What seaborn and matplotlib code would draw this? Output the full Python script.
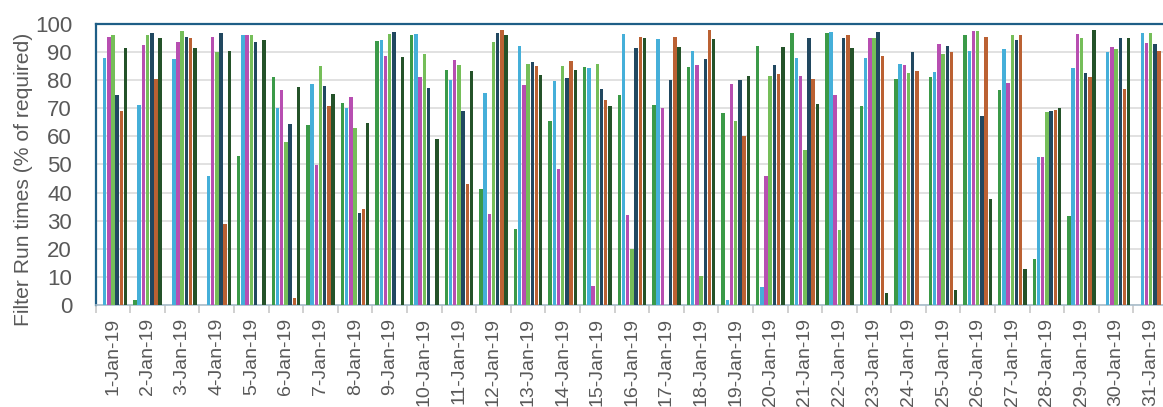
import numpy as np
import pandas as pd
import seaborn as sns
import matplotlib
matplotlib.use("Agg")
import matplotlib.pyplot as plt
from matplotlib.ticker import MultipleLocator, FixedLocator

nan = np.nan

dates = [f"{d}-Jan-19" for d in range(1, 32)]

filter_1 = [nan, 1.7, nan, nan, 53.0, 81.2, 64.1, 71.8, 94.1, 96.2, 83.6, 41.1, 26.9, 65.5, 84.8, 74.8,
            71.1, 84.8, 68.3, 92.2, 96.8, 96.9, 70.7, 80.5, 81.3, 96.0, 76.5, 16.4, 31.7, nan, nan]
filter_2 = [87.9, 71.1, 87.6, 45.9, 96.2, 70.2, 78.7, 70.3, 94.3, 96.4, 80.1, 75.4, 92.3, 79.8, 84.4, 96.6,
            94.8, 90.4, 1.5, 6.2, 87.9, 97.1, 88.0, 85.7, 83.1, 90.6, 91.3, 52.7, 84.5, 90.0, 96.9]
filter_3 = [95.5, 92.7, 93.8, 95.5, 96.2, 76.5, 49.7, 74.1, 88.6, 81.3, 87.3, 32.3, 78.4, 48.3, 6.7, 32.1,
            70.0, 85.3, 78.8, 45.9, 81.6, 74.6, 95.2, 85.5, 92.9, 97.6, 79.1, 52.7, 96.7, 91.9, 93.2]
filter_4 = [96.0, 96.2, 97.5, 90.0, 96.1, 58.0, 85.0, 63.0, 96.6, 89.4, 85.3, 93.5, 85.9, 85.1, 85.9, 19.9,
            nan, 10.2, 65.5, 81.6, 55.2, 26.6, 95.0, 82.6, 89.4, 97.7, 96.2, 68.7, 95.2, 91.0, 97.0]
filter_5 = [74.7, 96.8, 95.5, 96.9, 93.7, 64.6, 78.0, 32.7, 97.3, 77.3, 69.0, 96.9, 86.4, 80.9, 76.8, 91.4,
            80.0, 87.5, 80.0, 85.5, 95.1, 95.2, 97.3, 90.0, 92.3, 67.4, 94.3, 69.1, 82.5, 95.0, 93.0]
filter_6 = [69.1, 80.5, 95.2, 28.8, nan, 2.4, 70.7, 34.1, nan, nan, 43.0, 98.0, 85.1, 86.8, 72.9, 95.5,
            95.5, 98.0, 60.0, 82.3, 80.6, 96.1, 88.7, 83.2, 90.2, 95.5, 96.2, 69.6, 81.2, 76.8, 90.4]
filter_7 = [91.7, 95.0, 91.6, 90.4, 94.4, 77.5, 75.3, 64.8, 88.3, 59.0, 83.2, 96.2, 81.9, 83.7, 70.7, 95.1,
            92.0, 94.8, 81.6, 91.8, 71.5, 91.4, 4.2, nan, 5.2, 37.8, 12.8, 70.0, 98.1, 95.2, nan]

series_names = ["Filter 1", "Filter 2", "Filter 3", "Filter 4", "Filter 5", "Filter 6", "Filter 7"]
series_values = [filter_1, filter_2, filter_3, filter_4, filter_5, filter_6, filter_7]
colors = ["#2BAA3C", "#2CBAF2", "#C83DC1", "#6DCF48", "#164B6B", "#D25A1C", "#1C5A23"]

df = pd.DataFrame(
    [(d, name, v) for name, vals in zip(series_names, series_values) for d, v in zip(dates, vals)],
    columns=["date", "filter", "pct"],
)

plt.rcParams["font.family"] = ["Liberation Sans", "DejaVu Sans"]
text_color = "#595959"

fig = plt.figure(figsize=(11.63, 4.07), dpi=100)
ax = fig.add_axes([0.0823, 0.2514, 0.922, 0.689])

sns.barplot(
    data=df, x="date", y="pct", hue="filter",
    order=dates, hue_order=series_names, palette=colors,
    width=0.85, gap=0.18, dodge=True, linewidth=0, errorbar=None,
    legend=False, ax=ax, zorder=3,
)

ax.set_xlim(-0.5, len(dates) - 0.5)
ax.set_ylim(0, 100)
ax.yaxis.set_major_locator(MultipleLocator(10))
ax.grid(axis="y", color="#D9D9D9", linewidth=1.1, zorder=0)
ax.set_axisbelow(True)

ax.xaxis.set_minor_locator(FixedLocator(np.arange(-0.5, len(dates), 1.0)))
ax.tick_params(axis="x", which="major", length=0, pad=9.5, labelsize=14, labelcolor=text_color,
               labelrotation=90)
ax.tick_params(axis="x", which="minor", length=6, width=1.2, color="#C8C8C8")
ax.tick_params(axis="y", length=0, pad=17, labelsize=16, labelcolor=text_color)

for side in ("top", "left", "right"):
    ax.spines[side].set_color("#1E5E86")
    ax.spines[side].set_linewidth(1.6)
ax.spines["bottom"].set_color("#A9BDCB")
ax.spines["bottom"].set_linewidth(1.2)

ax.set_xlabel("")
ax.set_ylabel("Filter Run times (% of required)", fontsize=15.2, color=text_color)
ax.yaxis.set_label_coords(-0.0585, 0.446)

fig.savefig("out.png", dpi=100)
